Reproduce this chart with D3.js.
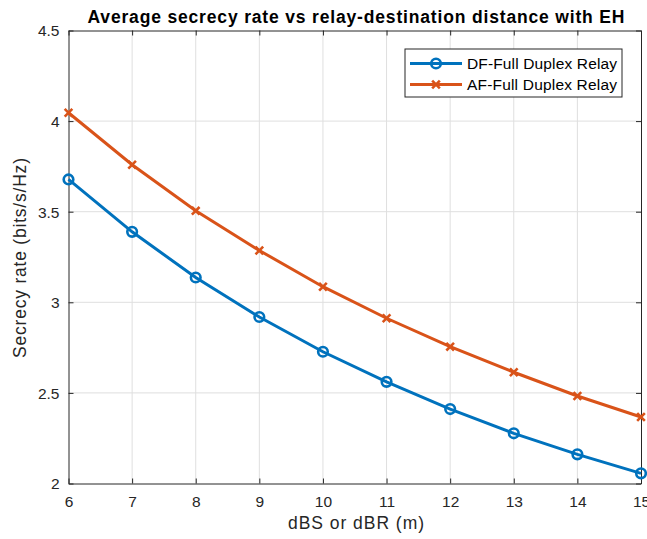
<!DOCTYPE html>
<html>
<head>
<meta charset="utf-8">
<script src="https://cdn.jsdelivr.net/npm/d3@7"></script>
<style>
	body { margin: 0; background: #fff; }
	svg { display: block; font-family: 'Liberation Sans', Arial, sans-serif; }
</style>
</head>
<body>
<div id="chart"></div>
<script>
(function() {
	'use strict';

	var distance = [6, 7, 8, 9, 10, 11, 12, 13, 14, 15];
	var dfRate = [3.678, 3.389, 3.137, 2.919, 2.727, 2.561, 2.411, 2.277, 2.161, 2.056];
	var afRate = [4.046, 3.759, 3.505, 3.286, 3.086, 2.912, 2.755, 2.614, 2.483, 2.367];
	var xTicks = [6, 7, 8, 9, 10, 11, 12, 13, 14, 15];
	var yTicks = [2, 2.5, 3, 3.5, 4, 4.5];
	var seriesNames = ['DF-Full Duplex Relay', 'AF-Full Duplex Relay'];

	var width = 647, height = 539;
	var margin = {top: 30.5, right: 6, bottom: 55.5, left: 68.5};
	var w = width - margin.left - margin.right,
		h = height - margin.top - margin.bottom;

	var axisColor = '#262626';
	var blue = '#0072BD', orange = '#D95319';

	var svg = d3.select('#chart')
		.append('svg')
		.attr('width', width)
		.attr('height', height);

	var cont = svg.append('g')
		.attr('transform', 'translate(' + margin.left + ',' + margin.top + ')');

	var x = d3.scaleLinear().domain([6, 15]).range([0, w]);
	var y = d3.scaleLinear().domain([2, 4.5]).range([h, 0]);

	// Grid
	cont.append('g').selectAll('line')
		.data(xTicks.slice(1, -1))
		.enter().append('line')
			.attr('x1', function(d) { return x(d); })
			.attr('x2', function(d) { return x(d); })
			.attr('y1', 0).attr('y2', h)
			.attr('stroke', '#dfdfdf').attr('stroke-width', 1);

	cont.append('g').selectAll('line')
		.data(yTicks.slice(1, -1))
		.enter().append('line')
			.attr('y1', function(d) { return y(d); })
			.attr('y2', function(d) { return y(d); })
			.attr('x1', 0).attr('x2', w)
			.attr('stroke', '#dfdfdf').attr('stroke-width', 1);

	// Axes (MATLAB style: ticks inside on all four sides)
	var xAxis = d3.axisBottom(x).tickValues(xTicks).tickSize(-5).tickSizeOuter(0).tickPadding(12);
	var yAxis = d3.axisLeft(y).tickValues(yTicks).tickSize(-5).tickSizeOuter(0).tickPadding(9).tickFormat(d3.format('~g'));

	var gx = cont.append('g')
		.attr('transform', 'translate(0,' + h + ')')
		.call(xAxis);
	var gy = cont.append('g').call(yAxis);

	cont.append('g')
		.call(d3.axisTop(x).tickValues(xTicks).tickSize(-5).tickSizeOuter(0).tickFormat(''));
	cont.append('g')
		.attr('transform', 'translate(' + w + ',0)')
		.call(d3.axisRight(y).tickValues(yTicks).tickSize(-5).tickSizeOuter(0).tickFormat(''));

	cont.selectAll('.domain').attr('stroke', axisColor);
	cont.selectAll('.tick line').attr('stroke', axisColor);
	cont.selectAll('.tick text')
		.attr('fill', axisColor)
		.attr('font-size', 15.5)
		.attr('font-family', "'Liberation Sans', Arial, sans-serif");
	gx.selectAll('.tick text').attr('dy', '0.71em');
	gy.selectAll('.tick text').attr('dy', '0.35em');

	// Lines
	var line = d3.line()
		.curve(d3.curveLinear)
		.x(function(d, i) { return x(distance[i]); })
		.y(function(d) { return y(d); });

	cont.append('path')
		.datum(dfRate)
		.attr('fill', 'none')
		.attr('stroke', blue)
		.attr('stroke-width', 3)
		.attr('d', line);

	cont.append('path')
		.datum(afRate)
		.attr('fill', 'none')
		.attr('stroke', orange)
		.attr('stroke-width', 3)
		.attr('d', line);

	// Markers
	cont.append('g').selectAll('circle')
		.data(dfRate)
		.enter().append('circle')
			.attr('cx', function(d, i) { return x(distance[i]); })
			.attr('cy', function(d) { return y(d); })
			.attr('r', 4.8)
			.attr('fill', 'none')
			.attr('stroke', blue)
			.attr('stroke-width', 2.6);

	var cross = d3.symbol().type(d3.symbolX).size(40);
	cont.append('g').selectAll('path')
		.data(afRate)
		.enter().append('path')
			.attr('transform', function(d, i) { return 'translate(' + x(distance[i]) + ',' + y(d) + ')'; })
			.attr('d', cross)
			.attr('fill', 'none')
			.attr('stroke', orange)
			.attr('stroke-width', 2.6);

	// Title and labels
	svg.append('text')
		.attr('x', 356)
		.attr('y', 22.5)
		.attr('text-anchor', 'middle')
		.attr('font-weight', 'bold')
		.attr('font-size', 17.5)
		.attr('textLength', 537)
		.attr('lengthAdjust', 'spacing')
		.attr('fill', '#000')
		.text('Average secrecy rate vs relay-destination distance with EH');

	svg.append('text')
		.attr('x', 356)
		.attr('y', 529)
		.attr('text-anchor', 'middle')
		.attr('font-size', 17.5)
		.attr('textLength', 136)
		.attr('lengthAdjust', 'spacing')
		.attr('fill', axisColor)
		.text('dBS or dBR (m)');

	svg.append('text')
		.attr('transform', 'translate(26,258) rotate(-90)')
		.attr('text-anchor', 'middle')
		.attr('font-size', 17.5)
		.attr('textLength', 200)
		.attr('lengthAdjust', 'spacing')
		.attr('fill', axisColor)
		.text('Secrecy rate (bits/s/Hz)');

	// Legend
	var legend = svg.append('g').attr('transform', 'translate(405,49)');
	legend.append('rect')
		.attr('width', 217).attr('height', 48)
		.attr('fill', '#fff')
		.attr('stroke', axisColor).attr('stroke-width', 1);

	var rows = [
		{name: seriesNames[0], color: blue, marker: 'circle'},
		{name: seriesNames[1], color: orange, marker: 'cross'}
	];
	rows.forEach(function(r, i) {
		var cy = 14.5 + i * 21;
		legend.append('line')
			.attr('x1', 5).attr('x2', 57)
			.attr('y1', cy).attr('y2', cy)
			.attr('stroke', r.color).attr('stroke-width', 3);
		if (r.marker === 'circle') {
			legend.append('circle')
				.attr('cx', 31).attr('cy', cy).attr('r', 4.8)
				.attr('fill', 'none').attr('stroke', r.color).attr('stroke-width', 2.6);
		} else {
			legend.append('path')
				.attr('transform', 'translate(31,' + cy + ')')
				.attr('d', cross)
				.attr('fill', 'none').attr('stroke', r.color).attr('stroke-width', 2.6);
		}
		legend.append('text')
			.attr('x', 62).attr('y', cy)
			.attr('dy', '0.35em')
			.attr('font-size', 15.5)
			.attr('textLength', 150)
			.attr('lengthAdjust', 'spacing')
			.attr('fill', '#000')
			.text(r.name);
	});
})();
</script>
</body>
</html>
